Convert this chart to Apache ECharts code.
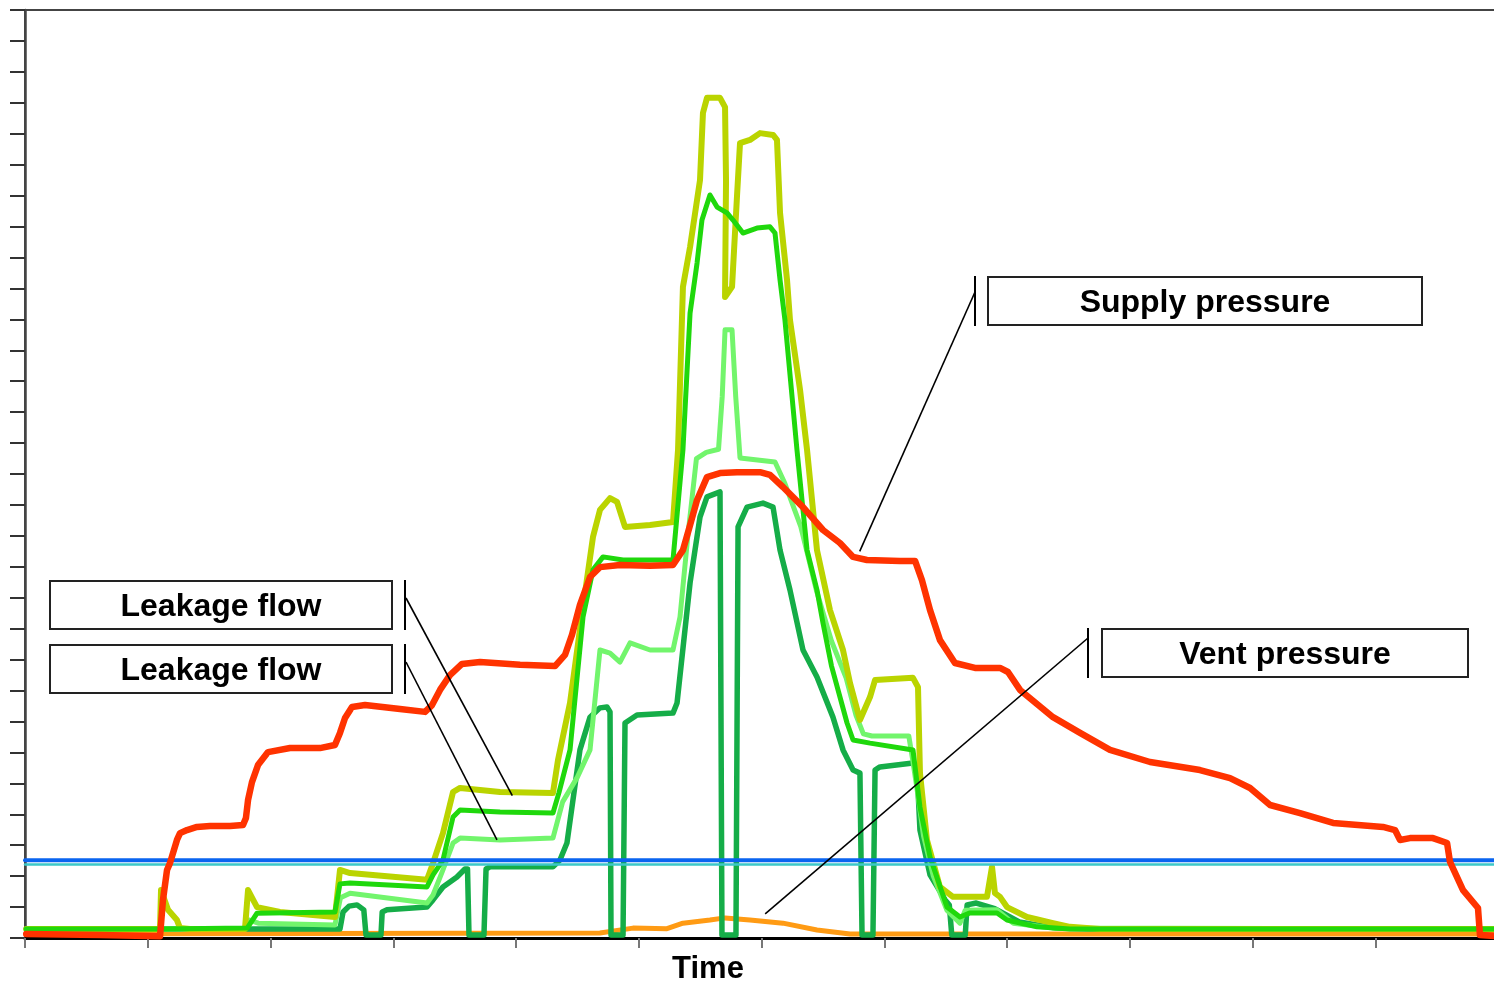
<!DOCTYPE html>
<html>
<head>
<meta charset="utf-8">
<script src="https://cdn.jsdelivr.net/npm/echarts@6/dist/echarts.min.js"></script>
<style>
  html, body { margin: 0; padding: 0; background: #fff; }
  #chart { width: 1494px; height: 983px; }
</style>
</head>
<body>
<div id="chart"></div>
<script>
// Time axis runs 0..1200 (12 major divisions), signal axis 0..300 (30 divisions).
const xTicks = { min: 0, max: 1200, interval: 100 };
const yTicks = { min: 0, max: 300, interval: 10 };

const supplyPressure = [
  [1,1.3],[61,1.0],[110,0.6],[112.4,12.3],[115.7,22.0],[118.1,24.2],[123.8,31.7],[126.3,33.9],[132,34.9],
  [140.1,35.9],[150.7,36.2],[167,36.2],[177.6,36.5],[180,38.8],[181.7,44.6],[184.9,50.4],[189.8,55.9],
  [198,60.1],[215.9,61.4],[240.3,61.4],[252.5,62.4],[256.6,66.3],[260.7,71.1],[266.4,74.7],[277,75.3],
  [305.5,74.0],[325.9,73.1],[331.6,75.3],[338.1,80.2],[346.2,85.0],[356,88.6],[370.7,89.2],[403.3,88.3],
  [431.8,87.9],[439.9,91.5],[445.6,98.0],[452.1,107.7],[460.3,116.7],[468.4,119.9],[484.7,120.6],
  [509.2,120.3],[527.9,120.6],[536,125.4],[541.8,133.5],[547.5,141.6],[555.6,149.0],[566.2,150.3],
  [580,150.6],[598.8,150.6],[606.9,149.7],[617.5,145.8],[633.8,139.3],[650.1,131.9],[663.9,127.7],
  [674.6,123.2],[685.9,122.2],[712.8,121.9],[725.1,121.9],[730.7,115.7],[737.3,106.0],[745.4,96.3],
  [757.6,88.9],[773.9,87.3],[794.3,87.3],[800.8,86.0],[810.6,80.2],[837.5,71.4],[859.5,66.3],
  [883.9,60.8],[916.5,56.9],[957.2,54.3],[981.7,51.7],[998,48.5],[1014.3,43.0],[1038.7,40.4],
  [1065.6,37.2],[1106.3,35.9],[1116.1,34.9],[1120.2,31.7],[1128.3,32.3],[1147,32.3],[1158.5,30.7],
  [1160.9,24.6],[1171.5,15.5],[1183.7,9.7],[1185.3,1.0],[1200,0.6]
];

const leakageFlowA = [
  [1,2.9],[110,2.9],[110.8,15.5],[116.5,9.1],[123.8,5.8],[126.3,3.2],[134.4,2.9],[179.2,2.9],[181.7,15.5],
  [189,10.0],[207.7,8.4],[252.5,6.8],[256.6,22.0],[264.8,21.0],[327.5,18.8],[332.4,24.2],[340.5,33.9],
  [348.7,47.2],[354.4,48.5],[387,47.2],[430.1,46.9],[434.2,57.5],[444,76.0],[454.6,107.0],[462.7,129.6],
  [468.4,138.4],[476.6,142.2],[482.3,141.0],[488.8,132.9],[509.2,133.5],[527.9,134.5],[532,157.8],
  [536,210.5],[541.8,223.4],[549.9,245.0],[552.3,266.7],[555.6,271.6],[566.2,271.6],[570.3,268.6],
  [571.1,245.0],[570.3,207.2],[576,210.5],[580,239.5],[582.5,257.0],[590.6,258.0],[598.8,260.2],
  [609.4,259.6],[612.6,258.0],[615.1,234.4],[620.8,212.7],[623.2,199.8],[631.4,177.2],[637.1,157.8],
  [645.2,125.4],[655.8,106.0],[666.4,93.1],[672.1,82.4],[680.2,70.5],[688.4,77.9],[692.5,83.4],
  [723.4,84.1],[727.5,81.1],[729.1,53.3],[734.8,31.7],[745.4,16.5],[756,13.3],[783.7,13.3],[787.8,23.0],
  [790.2,14.5],[794.3,13.3],[800,10.0],[816.3,6.8],[837.5,4.8],[851.3,3.6],[875.8,2.9],[1200,2.9]
];

const leakageFlowB = [
  [1,2.9],[110,2.9],[181,3.2],[189,8.0],[252.5,8.4],[256.6,17.5],[264.8,17.8],[327.5,16.5],[332.4,20.4],
  [340.5,25.2],[348.7,39.1],[354.4,41.4],[387,40.7],[430.1,40.4],[435,47],[444,60.8],[454.6,103.8],
  [462.7,119.0],[470.9,123.2],[487.2,122.2],[527.9,122.2],[536,157.8],[541.8,202.0],[547.5,218.2],
  [551.5,232.1],[558,240.2],[563.8,236.3],[571.9,234.4],[576.8,232.1],[584.9,227.9],[596.3,229.5],
  [606.9,229.9],[611,227.9],[615.1,212.7],[619.1,199.8],[628.9,157.8],[637.1,125.4],[645.2,112.5],
  [650.1,101.8],[657,88],[669.7,69.5],[674.6,64.0],[688.4,63.0],[723.4,60.8],[729.1,42.3],[737.3,26.2],
  [751.1,10.0],[761.7,6.8],[769.9,8.1],[791.9,8.1],[800,5.8],[824.4,3.6],[851.3,2.9],[1200,2.9]
];

const leakageFlowC = [
  [1,2.9],[179,2.9],[183,5.8],[190,4.8],[252.5,4.2],[257,13],[264.8,14.5],[327.5,11.3],[332.4,13.9],
  [340.5,22.0],[348.7,30.7],[354.4,32.3],[387,31.7],[430.1,32.3],[438,44],[450,52],[460.3,60.8],
  [468.4,93.1],[476.6,92.1],[484.7,89.2],[492.9,95.4],[509.2,93.1],[527.9,93.1],[533.6,103.8],[540,130],
  [547,155],[555,157],[565,158],[568,175],[570.3,196.6],[576,196.6],[579,175],[582.5,155.2],[611,153.9],
  [619,147],[632,133],[645,112],[657,96],[669,84],[677,72],[683,66],[690,65.3],[720,65.3],[723,58],
  [727.5,46],[732,33],[740,20],[751,9],[761.7,4.8],[766,9],[791.9,9.1],[805,4.8],[837.5,3.2],[1200,2.9]
];

const leakageFlowD = [
  [1,2.9],[256.6,2.9],[259.1,8.4],[264,10.3],[270.5,10.7],[276,9.1],[277.8,1.0],[290,1.0],[291,8.4],
  [294.9,9.1],[327.5,10.0],[332.4,12.3],[340.5,16.5],[351.9,19.7],[358.4,22.3],[360.5,22.3],[361.7,1.0],
  [373.9,1.0],[375.6,22.3],[378.8,23.0],[430.1,23.0],[435.8,25.2],[441.5,30.7],[452.1,60.8],[460.3,71.4],
  [468.4,74.4],[474.1,74.7],[476.6,73.1],[477.4,1.0],[487.2,1.0],[488.8,69.5],[498.6,72.1],[527.9,72.7],
  [531.2,76.0],[541.8,114.8],[549.9,136.1],[555.6,142.6],[566.2,144.2],[567.8,1.0],[579.2,1.0],
  [580.9,132.9],[588.2,139.3],[601.2,140.6],[609.4,139.3],[615.1,125.4],[623.2,112.5],[633.8,93.1],
  [645.2,84.4],[658.2,71.4],[666.4,60.8],[674.6,54.3],[680.2,53.3],[681.9,1.0],[690.8,1.0],[692.5,54.3],
  [696.5,55.3],[723.4,56.6],[726.7,54.3],[729.1,34.9],[737.3,20.4],[749.6,12.3],[753,10.7],[755,1.0],
  [766,1.0],[767.5,10.7],[775,11.3],[790,9.5],[810,5.2],[840,3.2],[870,2.9],[1200,2.9]
];

const ventPressure = [
  [1,1.3],[468.4,1.6],[495.3,3.2],[523,3.0],[536,4.8],[558,5.8],[570.3,6.5],[590.6,5.8],[617.5,4.8],
  [645.2,2.6],[672.1,1.3],[1200,1.3]
];

const referenceLevel = [[0,25.1],[1200,25.1]];
const referenceLevelLow = [[0,23.8],[1200,23.8]];

// Callout anchors (data coordinates) and their label boxes
const callouts = [
  { text: 'Supply pressure', anchor: [680, 125], box: [988, 277, 434, 48], bar: 975, from: 292 },
  { text: 'Vent pressure',   anchor: [603, 7.8], box: [1102, 629, 366, 48], bar: 1088, from: 638 },
  { text: 'Leakage flow',    anchor: [397, 46],  box: [50, 581, 342, 48], bar: 405, from: 598, right: true },
  { text: 'Leakage flow',    anchor: [384.5, 31.7], box: [50, 645, 342, 48], bar: 405, from: 662, right: true }
];

const chart = echarts.init(document.getElementById('chart'), null, { renderer: 'canvas' });

function lineSeries(name, data, color, width) {
  return {
    name, type: 'line', data, showSymbol: false, symbol: 'none', silent: true,
    lineStyle: { color, width, cap: 'round', join: 'round' }
  };
}

chart.setOption({
  animation: false,
  backgroundColor: '#fff',
  grid: {
    left: 25, top: 10, width: 1473, height: 928,
    outerBoundsMode: 'none', containLabel: false,
    show: true, borderColor: '#444', borderWidth: 2
  },
  xAxis: {
    type: 'value', min: xTicks.min, max: xTicks.max, interval: xTicks.interval,
    axisLine: { lineStyle: { color: '#000', width: 3 } },
    axisTick: { show: true, length: 10, lineStyle: { color: '#777', width: 2 } },
    axisLabel: { show: false }, splitLine: { show: false }
  },
  yAxis: {
    type: 'value', min: yTicks.min, max: yTicks.max, interval: yTicks.interval,
    axisLine: { show: true, lineStyle: { color: '#444', width: 2.5 } },
    axisTick: { show: true, length: 15, lineStyle: { color: '#333', width: 2 } },
    axisLabel: { show: false }, splitLine: { show: false }
  },
  series: [
    lineSeries('Vent pressure', ventPressure, '#ff9b14', 5),
    lineSeries('Leakage flow D', leakageFlowD, '#15ad48', 5.5),
    lineSeries('Leakage flow C', leakageFlowC, '#72f56c', 5),
    lineSeries('Leakage flow A', leakageFlowA, '#bad400', 6),
    lineSeries('Leakage flow B', leakageFlowB, '#1fd80c', 5),
    lineSeries('Reference low', referenceLevelLow, '#3cc8c8', 2.5),
    lineSeries('Reference', referenceLevel, '#0a64f0', 4),
    lineSeries('Supply pressure', supplyPressure, '#ff3300', 6.5)
  ]
});

const font = 'bold 32px "Liberation Sans", Arial, sans-serif';
const graphics = [];
callouts.forEach(c => {
  const [bx, by, bw, bh] = c.box;
  const p = chart.convertToPixel({ gridIndex: 0 }, c.anchor);
  graphics.push({ type: 'rect', z: 100, shape: { x: bx, y: by, width: bw, height: bh },
    style: { fill: '#fff', stroke: '#222', lineWidth: 2 } });
  graphics.push({ type: 'text', z: 101, x: bx + bw / 2, y: by + bh / 2 + 2,
    style: { text: c.text, font, fill: '#000', align: 'center', verticalAlign: 'middle',
             textAlign: 'center', textVerticalAlign: 'middle' } });
  graphics.push({ type: 'line', z: 100, shape: { x1: c.bar, y1: by - 1, x2: c.bar, y2: by + bh + 1 },
    style: { stroke: '#000', lineWidth: 2 } });
  graphics.push({ type: 'line', z: 100, shape: { x1: c.bar + (c.right ? 1 : 0), y1: c.from, x2: p[0], y2: p[1] },
    style: { stroke: '#000', lineWidth: 1.6 } });
});
graphics.push({ type: 'text', z: 101, x: 708, y: 969,
  style: { text: 'Time', font: 'bold 31px "Liberation Sans", Arial, sans-serif', fill: '#000',
           align: 'center', verticalAlign: 'middle', textAlign: 'center', textVerticalAlign: 'middle' } });

chart.setOption({ graphic: graphics });
</script>
</body>
</html>
